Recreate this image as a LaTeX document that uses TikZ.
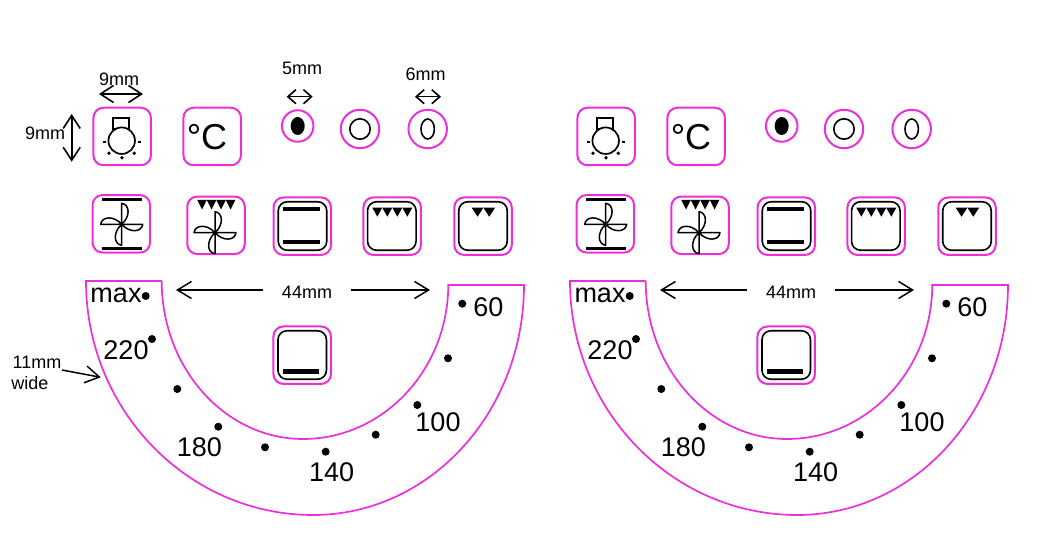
\documentclass[tikz,border=0pt]{standalone}
\usepackage{fontspec}
\setmainfont{Liberation Sans}
\usetikzlibrary{arrows.meta}
\definecolor{pk}{HTML}{EC2FDA}
\tikzset{
  keybox/.style={draw=pk,line width=2pt,rounded corners=10pt,minimum size=57.5pt,inner sep=0pt},
  innerbox/.style={draw=black,line width=1.6pt,rounded corners=9pt,minimum size=48.5pt,inner sep=0pt},
  ring/.style={draw=pk,line width=2pt,circle,inner sep=0pt},
  dial/.style={draw=pk,line width=1.7pt},
  num/.style={font=\fontsize{27}{27}\selectfont,inner sep=0pt},
  small/.style={font=\fontsize{18}{18}\selectfont,inner sep=0pt},
  bar/.style={line width=#1,draw=black},
  big/.style={line width=1.6pt,{Straight Barb[length=13pt,width=17pt]}-{Straight Barb[length=13pt,width=17pt]}},
  tiny/.style={line width=1.6pt,{Straight Barb[length=8pt,width=14pt]}-{Straight Barb[length=8pt,width=14pt]}},
  single/.style={line width=1.5pt,-{Straight Barb[length=14pt,width=17pt]}},
}
\newcommand{\tris}[5]{\foreach \i in {1,...,#3}{\fill[black] ({#1+(\i-1)*#4},#2) -- ++(#4,0) -- ++({-#4/2},#5) -- cycle;}}
\newcommand{\blades}[2]{\begin{scope}[shift={(#1,#2)}]
  \foreach \a in {0,90,180,270}{\draw[line width=1.5pt,line join=round,rotate=\a] (0,0) -- (0,-21) .. controls (8,-20) and (9,-8) .. (0,0);}
\end{scope}}
\newcommand{\panel}{
  % lamp
  \node[keybox] (lamp) at (122.2,136.5) {};
  \draw[line width=1.7pt] (113.3,129.3) rectangle (129.3,118);
  \node[draw=black,line width=1.7pt,circle,minimum size=26.5pt,inner sep=0pt,fill=white] (bulb) at (121.7,140.7) {};
  \draw[line width=2pt] (102.7,142.3) -- (105.7,142.3) (137.7,142.3) -- (140.7,142.3);
  \fill (109,153.3) circle (1.9pt) (122,157.7) circle (1.9pt) (134.3,153.3) circle (1.9pt);
  % celsius
  \node[keybox] (cel) at (212.2,136.5) {};
  \node[anchor=base,inner sep=0pt,font=\fontsize{36}{36}\selectfont] (celt) at (207,149.5) {°C};
  % rings
  \node[ring,minimum size=31.5pt] (r1) at (297.7,126) {};
  \fill[black] (297.7,126) ellipse (7pt and 9pt);
  \node[ring,minimum size=38.5pt] (r2) at (360,129) {};
  \draw[line width=1.6pt] (360,129) circle (10.2pt);
  \node[ring,minimum size=38.5pt] (r3) at (427.7,129) {};
  \draw[line width=1.6pt] (427.7,129) ellipse (6.7pt and 10pt);
  % row 2
  \node[keybox] (fa) at (121.3,223.8) {};
  \draw[bar=3.5pt] (102.3,199.3) -- (142.3,199.3) (102.3,248.7) -- (142.3,248.7);
  \blades{121.7}{224.3}
  \node[keybox] (fb) at (216,225.3) {};
  \tris{197.3}{200}{4}{9.5}{9.5}
  \blades{215}{232.7}
  \node[keybox] (k3) at (302.3,226.2) {};
  \node[innerbox] (k3i) at (302.5,226) {};
  \draw[bar=4.5pt] (283.3,209) -- (320,209) (283.3,242) -- (320,242);
  \node[keybox] (k4) at (392.2,226.2) {};
  \node[innerbox] (k4i) at (391.8,226) {};
  \tris{372.3}{207.7}{4}{10}{9}
  \node[keybox] (k5) at (483,226.2) {};
  \node[innerbox] (k5i) at (483,226) {};
  \tris{471.7}{207.7}{2}{11.7}{9}
  % bottom key
  \node[keybox] (k6) at (302.2,355.2) {};
  \node[innerbox] (k6i) at (302.2,355) {};
  \draw[bar=4.5pt] (282.7,371.7) -- (319.3,371.7);
  % dial
  \draw[dial] (161.7,281) -- (86,281)
    .. controls (86,410) and (188,515) .. (313,515)
    .. controls (430,515) and (524,412) .. (524,285)
    -- (448.3,285)
    .. controls (448,370) and (383,439) .. (303,439)
    .. controls (225,439) and (161.7,368) .. (161.7,281);
  \foreach \p in {(145.7,296),(152,339),(177.3,389),(218.3,426.7),(265,447.3),(325.7,451.7),(375.7,434.7),(417.3,405),(448,358.3),(462.3,303.7)}{\fill[black] \p circle (4pt);}
  \node[num] (tmax) at (116,295) {max};
  \node[num] (t220) at (126,350) {220};
  \node[num] (t180) at (199.3,447.7) {180};
  \node[num] (t140) at (331.7,472) {140};
  \node[num] (t100) at (438,422.3) {100};
  \node[num] (t60) at (488.3,307.3) {60};
  % 44mm
  \node[small,minimum width=87.7pt] (d44) at (307,292) {44mm};
  \coordinate (d44l) at (176,290);
  \coordinate (d44r) at (430,290);
  \draw[single] (d44.west|-d44l) -- (d44l);
  \draw[single] (d44.east|-d44r) -- (d44r);
}
\begin{document}
\begin{tikzpicture}[x=1pt,y=-1pt]
\useasboundingbox (0,0) rectangle (1060,534);
\begin{scope}[name prefix=a-]
\panel
\end{scope}
\begin{scope}[name prefix=b-,shift={(484,0)}]
\panel
\end{scope}
% dimension labels (left panel only)
\node[small] (w9) at (119,79) {9mm};
\coordinate (w9a) at (99,94); \coordinate (w9b) at (143,94);
\draw[big] (w9a) -- (w9b);
\node[small] (h9) at (45,133.5) {9mm};
\coordinate (h9a) at (71.7,114); \coordinate (h9b) at (71.7,161.7);
\draw[big] (h9a) -- (h9b);
\node[small] (w5) at (302,68) {5mm};
\coordinate (w5a) at (286.7,96.7); \coordinate (w5b) at (312.7,96.7);
\draw[tiny] (w5a) -- (w5b);
\node[small] (w6) at (425.7,74) {6mm};
\coordinate (w6a) at (415,96.7); \coordinate (w6b) at (441,96.7);
\draw[tiny] (w6a) -- (w6b);
\node[small] (w11) at (37,362) {11mm};
\node[small] (wide) at (30,383) {wide};
\coordinate (w11a) at (62,370); \coordinate (w11b) at (100.7,377.3);
\draw[single] (w11a) -- (w11b);
\end{tikzpicture}
\end{document}
